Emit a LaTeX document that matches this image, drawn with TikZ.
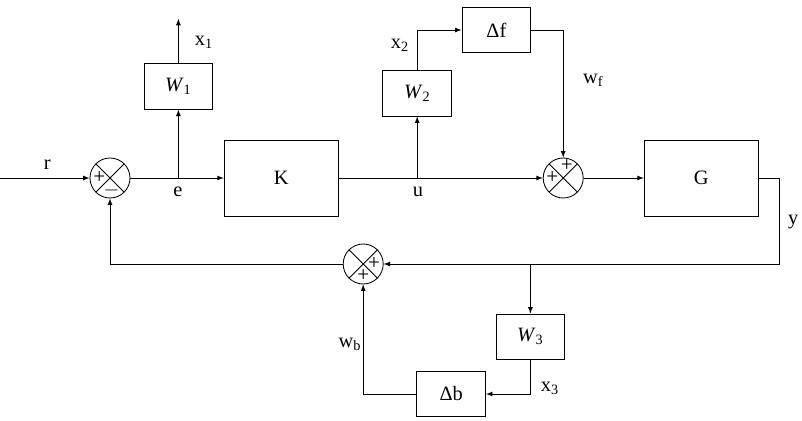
\documentclass[tikz,border=0pt]{standalone}
\usepackage{fontspec}
\setmainfont{Liberation Serif}
\usetikzlibrary{positioning,arrows}

\begin{document}
\begin{tikzpicture}[>=latex, line width=0.6pt, font=\fontsize{14.5}{17}\selectfont,
  block/.style={draw,rectangle,minimum width=1.72cm,minimum height=1.14cm},
  bigblock/.style={draw,rectangle,minimum width=2.85cm,minimum height=1.9cm},
  sum/.style={draw,circle,minimum size=1cm,inner sep=0pt,
    path picture={\draw (path picture bounding box.north west) -- (path picture bounding box.south east)
      (path picture bounding box.north east) -- (path picture bounding box.south west);}},
  sign/.style={inner sep=0pt,font=\fontsize{15}{17}\selectfont}]
  \useasboundingbox (0,0) rectangle (20.05,10.5);

  % blocks
  \node[bigblock] (k) at (7.03,6.05) {K};
  \node[bigblock] (g) at (17.53,6.05) {G};
  \node[block] (w1) at (4.46,8.34) {\textit{W}\textsubscript{1}};
  \node[block] (w2) at (10.43,8.17) {\textit{W}\textsubscript{2}};
  \node[block] (df) at (12.41,9.75) {Δf};
  \node[block] (w3) at (13.26,2.08) {\textit{W}\textsubscript{3}};
  \node[block] (db) at (11.28,0.65) {Δb};

  % summing junctions
  \node[sum] (sum1) at (2.75,6.05) {};
  \node[sum] (sum2) at (14.08,6.05) {};
  \node[sum] (sum3) at (9.08,3.9) {};
  \node[sign] (s1a) at ([xshift=-0.27cm]sum1.center) {+};
  \node[sign] (s1b) at ([xshift=0.04cm,yshift=-0.3cm]sum1.center) {$-$};
  \node[sign] (s2a) at ([xshift=0.09cm,yshift=0.3cm]sum2.center) {+};
  \node[sign] (s2b) at ([xshift=-0.27cm]sum2.center) {+};
  \node[sign] (s3a) at ([xshift=0.27cm]sum3.center) {+};
  \node[sign] (s3b) at ([yshift=-0.3cm]sum3.center) {+};

  % branch points and free ends
  \coordinate (in) at (0,6.05);
  \coordinate (e) at (4.46,6.05);
  \coordinate (x1end) at (4.46,10.03);
  \coordinate (u) at (10.43,6.05);
  \coordinate (yc) at (19.48,3.9);
  \coordinate (yb) at (13.26,3.9);

  % forward path
  \draw[->] (in) -- (sum1.west);
  \draw[->] (sum1.east) -- (k.west);
  \draw[->] (k.east) -- (sum2.west);
  \draw[->] (sum2.east) -- (g.west);
  \draw[->] (e) -- (w1.south);
  \draw[->] (w1.north) -- (x1end);
  \draw[->] (u) -- (w2.south);
  \draw[->] (w2.north) |- (df.west);
  \draw[->] (df.east) -| (sum2.north);

  % feedback path
  \draw[->] (g.east) -| (yc) -- (sum3.east);
  \draw[->] (sum3.west) -| (sum1.south);
  \draw[->] (yb) -- (w3.north);
  \draw[->] (w3.south) |- (db.east);
  \draw[->] (db.west) -| (sum3.south);

  % signal labels
  \node (lr) at (1.18,6.38) {r};
  \node (le) at (4.45,5.7) {e};
  \node (lx1) at (5.1,9.43) {x\textsubscript{1}};
  \node (lu) at (10.45,5.7) {u};
  \node (lx2) at (10.0,9.37) {x\textsubscript{2}};
  \node (lwf) at (14.83,8.5) {w\textsubscript{f}};
  \node (ly) at (19.83,4.95) {y};
  \node (lwb) at (8.75,1.88) {w\textsubscript{b}};
  \node (lx3) at (13.75,0.8) {x\textsubscript{3}};
\end{tikzpicture}
\end{document}
